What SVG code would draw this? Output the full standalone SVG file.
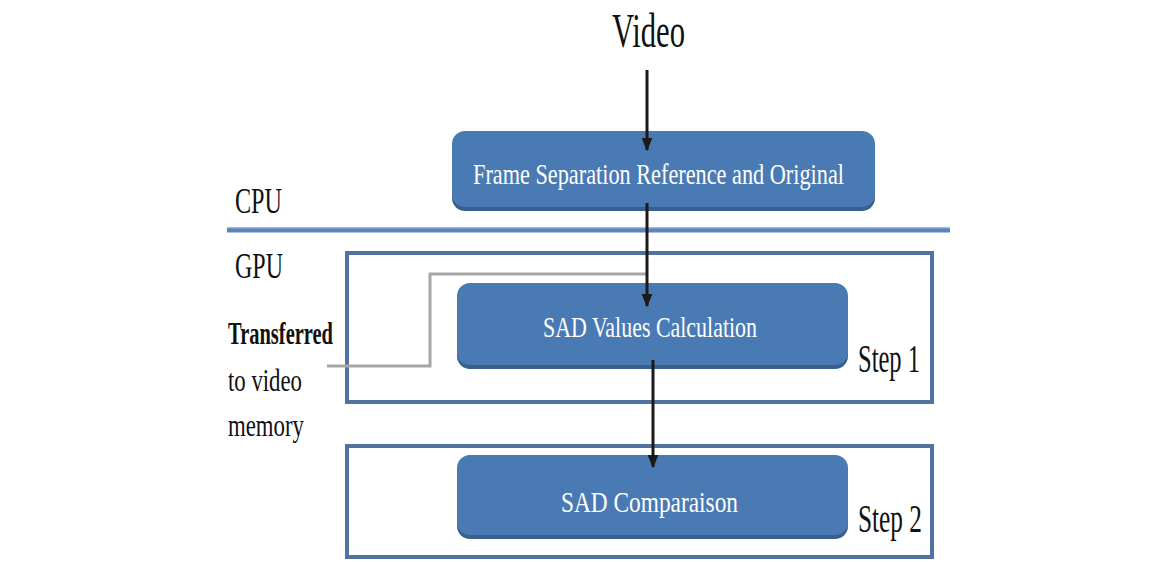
<svg xmlns="http://www.w3.org/2000/svg" width="1167" height="562" viewBox="0 0 1167 562">
<style>
.lbl{font-family:"Liberation Serif","Times New Roman",serif;fill:#111;}
.in{font-family:"Liberation Serif","Times New Roman",serif;fill:#fff;}
.box{fill:#4a7ab4;}
.shadow{fill:#3b5f8c;}
.frame{fill:#fff;stroke:#52739e;stroke-width:4;}
.conn{stroke:#1a1a1a;stroke-width:3;fill:none;}
</style>
<defs>
<marker id="ah" viewBox="0 0 10 10" refX="9" refY="5" markerWidth="4.5" markerHeight="4.5" orient="auto" markerUnits="strokeWidth">
<path d="M0,1 L10,5 L0,9 z" fill="#1a1a1a"/>
</marker>
</defs>
<rect width="1167" height="562" fill="#fff"/>

<g id="labels">
<text class="lbl" x="612" y="47" font-size="48" textLength="73" lengthAdjust="spacingAndGlyphs">Video</text>
<text class="lbl" x="235" y="213" font-size="36" textLength="47" lengthAdjust="spacingAndGlyphs">CPU</text>
<text class="lbl" x="235" y="278" font-size="36" textLength="48" lengthAdjust="spacingAndGlyphs">GPU</text>
<text class="lbl" x="228" y="344" font-size="32" font-weight="bold" textLength="105" lengthAdjust="spacingAndGlyphs">Transferred</text>
<text class="lbl" x="228" y="391" font-size="32" textLength="74" lengthAdjust="spacingAndGlyphs">to video</text>
<text class="lbl" x="228" y="436" font-size="32" textLength="76" lengthAdjust="spacingAndGlyphs">memory</text>
</g>

<g id="separator">
<line x1="227" y1="230" x2="950" y2="230" stroke="#5b86bd" stroke-width="5"/>
<line x1="227" y1="228" x2="950" y2="228" stroke="#8fb0d8" stroke-width="1"/>
</g>

<g id="step1">
<rect class="frame" x="347" y="253" width="585" height="149"/>
<text class="lbl" x="858" y="372" font-size="40" textLength="62" lengthAdjust="spacingAndGlyphs">Step 1</text>
</g>

<g id="step2">
<rect class="frame" x="347" y="446" width="585" height="111"/>
<text class="lbl" x="858" y="532" font-size="40" textLength="64" lengthAdjust="spacingAndGlyphs">Step 2</text>
</g>

<g id="frame-separation">
<rect class="shadow" x="452" y="134" width="423" height="77" rx="13"/>
<rect class="box" x="452" y="131" width="423" height="76" rx="13"/>
<text class="in" x="473" y="184" font-size="30" textLength="371" lengthAdjust="spacingAndGlyphs">Frame Separation Reference and Original</text>
</g>

<g id="sad-values">
<rect class="shadow" x="457" y="286" width="391" height="83" rx="13"/>
<rect class="box" x="457" y="283" width="391" height="82" rx="13"/>
<text class="in" x="543" y="337" font-size="30" textLength="214" lengthAdjust="spacingAndGlyphs">SAD Values Calculation</text>
</g>

<g id="sad-comparaison">
<rect class="shadow" x="457" y="458" width="391" height="81" rx="13"/>
<rect class="box" x="457" y="455" width="391" height="80" rx="13"/>
<text class="in" x="561" y="512" font-size="30" textLength="177" lengthAdjust="spacingAndGlyphs">SAD Comparaison</text>
</g>

<g id="connectors">
<polyline points="327,366 430,366 430,274 646,274" fill="none" stroke="#a6a6a6" stroke-width="3"/>
<line class="conn" x1="647" y1="70" x2="647" y2="150" marker-end="url(#ah)"/>
<line class="conn" x1="647" y1="203" x2="647" y2="306" marker-end="url(#ah)"/>
<line class="conn" x1="653" y1="360" x2="653" y2="467" marker-end="url(#ah)"/>
</g>
</svg>
